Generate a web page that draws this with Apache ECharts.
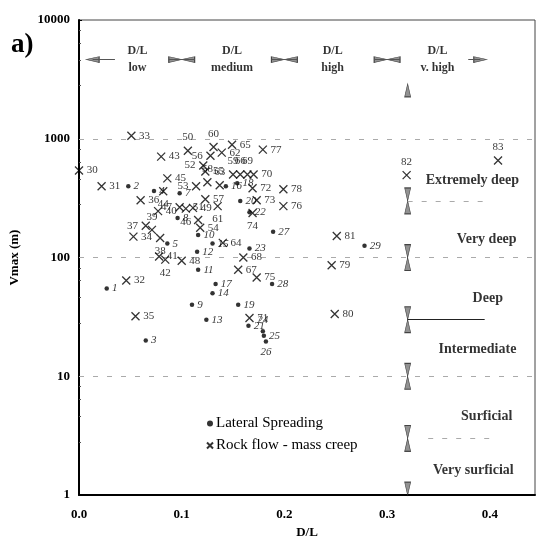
<!DOCTYPE html>
<html><head><meta charset="utf-8">
<script src="https://cdn.jsdelivr.net/npm/echarts@6/dist/echarts.min.js"></script>
<style>html,body{margin:0;padding:0;background:#fff}#c{width:537px;height:544px}</style>
</head><body><div id="c"></div>
<script>
// ---------- data ----------
const xTicks = [0, 0.1, 0.2, 0.3, 0.4];
const yTicks = [1, 10, 100, 1000, 10000];

// Lateral spreading (dots)
const lsNames = ['1','2','3','4','5','7','8','9','10','11','12','13','14','15','16','17','18','19','20','21','22','23','24','25','26','27','28','29'];
const lsDL    = [0.027,0.048,0.065,0.073,0.086,0.098,0.096,0.110,0.116,0.116,0.115,0.124,0.130,0.130,0.143,0.133,0.154,0.155,0.157,0.165,0.166,0.166,0.179,0.180,0.182,0.189,0.188,0.278];
const lsV     = [55,398,20,363,131,347,215,40,155,79,112,30,50,131,398,60,422,40,299,26.6,241,119,24,22,19.6,165,60,126];

// Rock flow - mass creep (crosses)
const rfNames = ['30','31','32','33','34','35','36','37','38','39','40','41','42','43','44','45','46','47','48','49','50','51','52','53','54','55','56','57','58','59','60','61','62','63','64','65','66','67','68','69','70','71','72','73','74','75','76','77','78','79','80','81','82','83'];
const rfDL    = [0.000,0.022,0.046,0.051,0.053,0.055,0.060,0.065,0.079,0.071,0.077,0.078,0.084,0.080,0.082,0.086,0.104,0.098,0.100,0.111,0.106,0.116,0.121,0.114,0.118,0.123,0.128,0.123,0.125,0.150,0.131,0.135,0.139,0.137,0.140,0.149,0.157,0.155,0.160,0.164,0.170,0.166,0.169,0.173,0.169,0.173,0.199,0.179,0.199,0.246,0.249,0.251,0.319,0.408];
const rfV     = [540,398,64,1060,150,32,304,185,146,171,246,102,96,708,361,464,258,265,94,262,794,207,596,398,178,531,720,310,430,501,854,271,764,406,133,891,501,79,100,501,501,31,383,304,237,68,271,810,376,86,33.5,152,494,656];

// D/L classes (top)
const dlNames = ['D/L\nlow', 'D/L\nmedium', 'D/L\nhigh', 'D/L\nv. high'];
const dlCenters = [0.057, 0.149, 0.247, 0.349];
const dlBounds = [0.007, 0.1, 0.2, 0.3, 0.397];
const dlRowV = 4640;

// Depth classes (right)
const zoneNames = ['Extremely deep', 'Very deep', 'Deep', 'Intermediate', 'Surficial', 'Very surficial'];
const zoneTextX = [0.383, 0.397, 0.398, 0.388, 0.397, 0.384];
const zoneTextV = [447, 141, 45, 17, 4.6, 1.6];
const zoneBounds = [2900, 300, 100, 30, 10, 3, 1];
const zoneColX = 0.32;

// ---------- helpers ----------
const serif = 'Liberation Serif';
const labelPos = {'50':'top','60':'top','59':'top','66':'top','69':'top','56':'left','52':'left','53':'left','47':'left','37':'left','74':'bottom','42':'bottom','51':'top','82':'top','83':'top','58':'top','63':'top','26':'bottom','24':'top','46':'bottom','44':'bottom','39':'top','38':'bottom','61':'bottom'};
function pts(xs, vs, names) {
  return xs.map((x, i) => {
    const d = {value: [x, vs[i], names[i]]};
    if (labelPos[names[i]]) d.label = {position: labelPos[names[i]]};
    return d;
  });
}
const dx = 0.0063;
const fy = Math.pow(10, 6.5 / 120);

const arrowsL = [], arrowsR = [], arrowsU = [], arrowsD = [];
dlBounds.forEach((b, i) => {
  if (i < dlBounds.length - 1) arrowsL.push([b + dx, dlRowV]);
  if (i > 0) arrowsR.push([b - dx, dlRowV]);
});
zoneBounds.forEach((b, i) => {
  if (i < zoneBounds.length - 1) arrowsU.push([zoneColX, b / fy]);
  if (i > 0) arrowsD.push([zoneColX, b * fy]);
});
const shafts = [];
dlBounds.forEach((b, i) => {
  const a = (i === 0) ? b : b - 2 * dx;
  const e = (i === dlBounds.length - 1) ? b : b + 2 * dx;
  shafts.push([{coord: [i === 0 ? b + dx : a, dlRowV]}, {coord: [i === 0 ? b + 0.028 : e, dlRowV]}]);
});
const lastDL = dlBounds.length - 1;
shafts[lastDL] = [{coord: [dlBounds[lastDL] - 0.018, dlRowV]}, {coord: [dlBounds[lastDL] - dx, dlRowV]}];

const arrowStyle = {color: '#777', borderColor: '#222', borderWidth: 0.8};

const option = {
  animation: false,
  backgroundColor: '#fff',
  title: {text: 'a)', left: 6, top: 27, textStyle: {fontFamily: serif, fontSize: 27, fontWeight: 'bold', color: '#000'}},
  grid: {left: 79, right: 2, top: 20, bottom: 44, show: true, borderColor: '#444', borderWidth: 1},
  legend: {
    data: [{name: 'Lateral Spreading', icon: 'circle'}, {name: 'Rock flow - mass creep'}],
    orient: 'vertical', left: 202, top: 412, itemWidth: 6, itemHeight: 6, itemGap: 7,
    textStyle: {fontFamily: serif, fontSize: 15, color: '#000', padding: [0, 0, 0, -2]},
    borderWidth: 0, padding: 4
  },
  xAxis: {
    type: 'value', min: 0, max: 0.444, interval: 0.1,
    name: 'D/L', nameLocation: 'middle', nameGap: 30,
    nameTextStyle: {fontFamily: serif, fontSize: 13, fontWeight: 'bold', color: '#000'},
    axisLine: {lineStyle: {color: '#000', width: 2}},
    axisTick: {show: false},
    splitLine: {show: false},
    axisLabel: {fontFamily: serif, fontSize: 13, fontWeight: 'bold', color: '#000', margin: 13, showMaxLabel: false,
      formatter: v => v.toFixed(1)}
  },
  yAxis: {
    type: 'log', logBase: 10, min: yTicks[0], max: yTicks[yTicks.length - 1],
    name: 'Vmax (m)', nameLocation: 'middle', nameGap: 58, nameRotate: 90,
    nameTextStyle: {fontFamily: serif, fontSize: 13, fontWeight: 'bold', color: '#000'},
    axisLine: {show: true, lineStyle: {color: '#000', width: 2}},
    axisTick: {show: true, inside: true, length: 3, lineStyle: {color: '#000'}},
    minorTick: {show: true, length: 2, lineStyle: {color: '#555'}},
    splitLine: {show: false},
    axisLabel: {fontFamily: serif, fontSize: 13, fontWeight: 'bold', color: '#000', margin: 9,
      formatter: v => String(Math.round(v))}
  },
  series: [
    {
      name: 'Lateral Spreading', type: 'scatter', symbol: 'circle', symbolSize: 4.5,
      itemStyle: {color: '#000'},
      data: pts(lsDL, lsV, lsNames),
      label: {show: true, position: 'right', distance: 3, formatter: p => p.data.value[2],
        fontFamily: serif, fontStyle: 'italic', fontSize: 11, color: '#000'},
      z: 5
    },
    {
      name: 'Rock flow - mass creep', type: 'scatter', symbol: 'path://M0,0L10,10M10,0L0,10', symbolSize: 8,
      itemStyle: {color: 'rgba(0,0,0,0)', borderColor: '#000', borderWidth: 1.3},
      data: pts(rfDL, rfV, rfNames),
      label: {show: true, position: 'right', distance: 3, formatter: p => p.data.value[2],
        fontFamily: serif, fontSize: 11, color: '#000'},
      z: 5
    },
    {
      name: 'guides', type: 'scatter', symbol: 'triangle', symbolSize: [6, 13], symbolRotate: 90,
      itemStyle: arrowStyle, data: arrowsL, silent: true,
      markLine: {
        symbol: 'none', silent: true, label: {show: false},
        lineStyle: {color: '#aaa', type: [5, 9], width: 1},
        data: [
          {yAxis: 10}, {yAxis: 100}, {yAxis: 1000},
          [{coord: [zoneColX, 300]}, {coord: [0.4, 300]}],
          [{coord: [0.34, 3]}, {coord: [0.4, 3]}],
          [{coord: [zoneColX, 30], lineStyle: {type: 'solid', color: '#222'}}, {coord: [0.395, 30]}]
        ].concat(shafts.map(s => [
          Object.assign({lineStyle: {type: 'solid', color: '#555', width: 1}}, s[0]), s[1]
        ]))
      }
    },
    {name: 'guidesR', type: 'scatter', symbol: 'triangle', symbolSize: [6, 13], symbolRotate: -90,
      itemStyle: arrowStyle, data: arrowsR, silent: true},
    {name: 'guidesU', type: 'scatter', symbol: 'triangle', symbolSize: [6, 13], symbolRotate: 0,
      itemStyle: arrowStyle, data: arrowsU, silent: true},
    {name: 'guidesD', type: 'scatter', symbol: 'triangle', symbolSize: [6, 13], symbolRotate: 180,
      itemStyle: arrowStyle, data: arrowsD, silent: true},
    {
      name: 'dlText', type: 'scatter', symbolSize: 0, silent: true,
      data: dlCenters.map((x, i) => [x, dlRowV, dlNames[i]]),
      label: {show: true, position: 'inside', formatter: p => p.data[2], fontFamily: serif, fontWeight: 'bold',
        fontSize: 12, lineHeight: 17, color: '#000'}
    },
    {
      name: 'zoneText', type: 'scatter', symbolSize: 0, silent: true,
      data: zoneTextX.map((x, i) => [x, zoneTextV[i], zoneNames[i]]),
      label: {show: true, position: 'inside', formatter: p => p.data[2], fontFamily: serif, fontWeight: 'bold',
        fontSize: 14, color: '#000'}
    }
  ]
};
const chart = echarts.init(document.getElementById('c'));
chart.setOption(option);
</script>
</body></html>
